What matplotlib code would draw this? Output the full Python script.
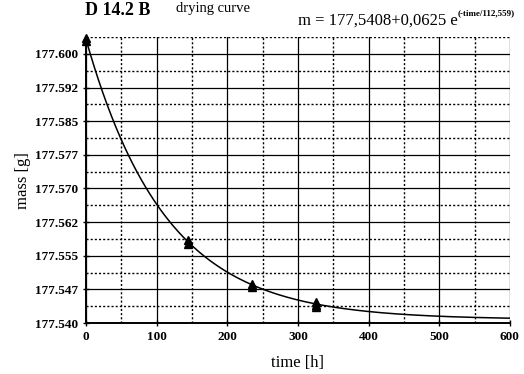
import matplotlib
matplotlib.use("Agg")
import matplotlib.pyplot as plt
import numpy as np

# Data
times = [0, 0, 145, 145, 235, 235, 325, 325, 325]
masses = [177.6036, 177.6028, 177.5586, 177.5576, 177.5488, 177.5480, 177.5447, 177.5441, 177.5436]
fit_m0 = 177.5408
fit_a = 0.0625
fit_tau = 112.559
yticks = [177.540, 177.5475, 177.555, 177.5625, 177.570, 177.5775, 177.585, 177.5925, 177.600]
ytick_labels = ["177.540", "177.547", "177.555", "177.562", "177.570", "177.577", "177.585", "177.592", "177.600"]
xticks = [0, 100, 200, 300, 400, 500, 600]

plt.rcParams['font.family'] = ['Liberation Serif', 'DejaVu Serif']

fig = plt.figure(figsize=(5.24, 3.74), dpi=100)
ax = fig.add_axes([0.164, 0.136, 0.809, 0.765])

ax.set_xlim(0, 600)
ax.set_ylim(177.540, 177.60375)

# grid
for x in xticks:
    ax.axvline(x, color='black', lw=0.9, zorder=1)
for x in [50, 150, 250, 350, 450, 550]:
    ax.axvline(x, color='black', lw=1.0, ls=(0, (1.5, 1.5)), zorder=1)
for y in yticks:
    ax.axhline(y, color='black', lw=0.9, zorder=1)
for y in np.array(yticks) + 0.00375:
    ax.axhline(y, color='black', lw=1.0, ls=(0, (1.5, 1.5)), zorder=1)

t = np.linspace(0, 600, 400)
ax.plot(t, fit_m0 + fit_a * np.exp(-t / fit_tau), color='black', lw=1.1, zorder=3)
ax.plot(times, masses, linestyle='none', marker='^', color='black', ms=5.5, clip_on=False, zorder=4)

ax.set_xticks(xticks)
ax.set_xticklabels([str(x) for x in xticks], fontsize=9.5, fontweight='bold')
ax.set_yticks(yticks)
ax.set_yticklabels(ytick_labels, fontsize=9.5, fontweight='bold')
ax.tick_params(direction='inout', length=5, width=1, pad=3)

for s in ['top', 'right']:
    ax.spines[s].set_visible(False)
ax.spines['left'].set_linewidth(1.4)
ax.spines['bottom'].set_linewidth(1.4)

ax.set_xlabel('time [h]', fontsize=12, labelpad=9)
ax.set_ylabel('mass [g]', fontsize=12, labelpad=3)

fig.text(0.162, 0.995, 'D 14.2 B', fontsize=13, fontweight='bold', va='top', ha='left')
fig.text(0.335, 0.995, 'drying curve', fontsize=10.5, va='top', ha='left')

eq = fig.text(0.568, 0.933, 'm = 177,5408+0,0625 e', fontsize=12, va='baseline', ha='left')
ax.annotate('(-time/112,559)', xy=(1.0, 0.75), xycoords=eq, fontsize=6.5, fontweight='bold',
            va='bottom', ha='left', annotation_clip=False)

fig.savefig('out.png', dpi=100)
